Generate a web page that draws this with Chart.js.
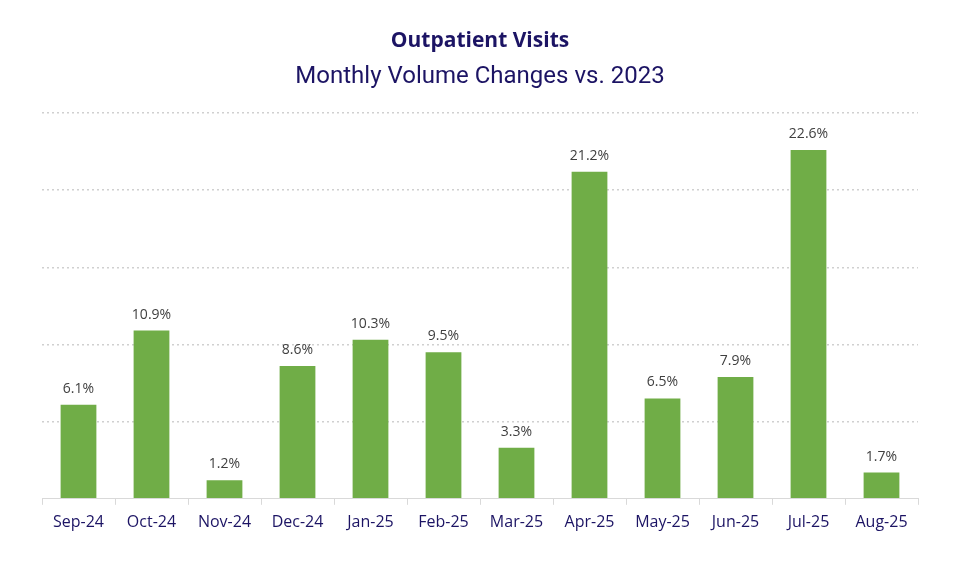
<!DOCTYPE html>
<html lang="en">
<head>
    <meta charset="UTF-8">
    <title>Outpatient Visits</title>
    <script src="https://cdn.jsdelivr.net/npm/chart.js"></script>
    <style>
        body { margin: 0; background: #fff; }
        #wrap { width: 960px; height: 576px; }
    </style>
</head>
<body>
<div id="wrap"><canvas id="visitsChart"></canvas></div>
<script>
    // monthly change in outpatient visits vs. 2023, in percent
    const months = ['Sep-24', 'Oct-24', 'Nov-24', 'Dec-24', 'Jan-25', 'Feb-25',
                    'Mar-25', 'Apr-25', 'May-25', 'Jun-25', 'Jul-25', 'Aug-25'];
    const changePct = [6.1, 10.9, 1.2, 8.6, 10.3, 9.5, 3.3, 21.2, 6.5, 7.9, 22.6, 1.7];

    const navy = '#1c1464';

    // small value labels above each bar
    const barLabels = {
        id: 'barLabels',
        afterDatasetsDraw(chart) {
            const ctx = chart.ctx;
            const meta = chart.getDatasetMeta(0);
            ctx.save();
            ctx.font = '14px "Open Sans", sans-serif';
            ctx.fillStyle = '#404040';
            ctx.textAlign = 'center';
            ctx.textBaseline = 'middle';
            meta.data.forEach((bar, i) => {
                ctx.fillText(changePct[i].toFixed(1) + '%', bar.x, bar.y - 16);
            });
            ctx.restore();
        }
    };

    new Chart(document.getElementById('visitsChart'), {
        type: 'bar',
        data: {
            labels: months,
            datasets: [{
                label: 'Change vs. 2023',
                data: changePct,
                backgroundColor: '#70ad47',
                categoryPercentage: 1.0,
                barPercentage: 0.49
            }]
        },
        options: {
            responsive: true,
            maintainAspectRatio: false,
            animation: false,
            layout: { padding: { left: 42, right: 42, bottom: 36 } },
            plugins: {
                legend: { display: false },
                tooltip: { enabled: false },
                title: {
                    display: true,
                    text: 'Outpatient Visits',
                    color: navy,
                    font: { family: '"Open Sans", sans-serif', size: 21, weight: 'bold' },
                    padding: { top: 28, bottom: 9 }
                },
                subtitle: {
                    display: true,
                    text: 'Monthly Volume Changes vs. 2023',
                    color: navy,
                    font: { family: 'Roboto, sans-serif', size: 24 },
                    padding: { top: 0, bottom: 22 }
                }
            },
            scales: {
                x: {
                    grid: {
                        drawOnChartArea: false,
                        color: '#d9d9d9',
                        tickLength: 6
                    },
                    border: { color: '#d9d9d9' },
                    ticks: {
                        color: navy,
                        padding: 8,
                        font: { family: '"Open Sans", sans-serif', size: 16 }
                    }
                },
                y: {
                    min: 0,
                    max: 25,
                    ticks: { stepSize: 5, display: false },
                    border: { display: false, dash: [2, 3] },
                    grid: {
                        drawTicks: false,
                        lineWidth: 1.5,
                        color: c => c.tick.value === 0 ? 'rgba(0,0,0,0)' : '#d0d0d0'
                    }
                }
            }
        },
        plugins: [barLabels]
    });
</script>
</body>
</html>
